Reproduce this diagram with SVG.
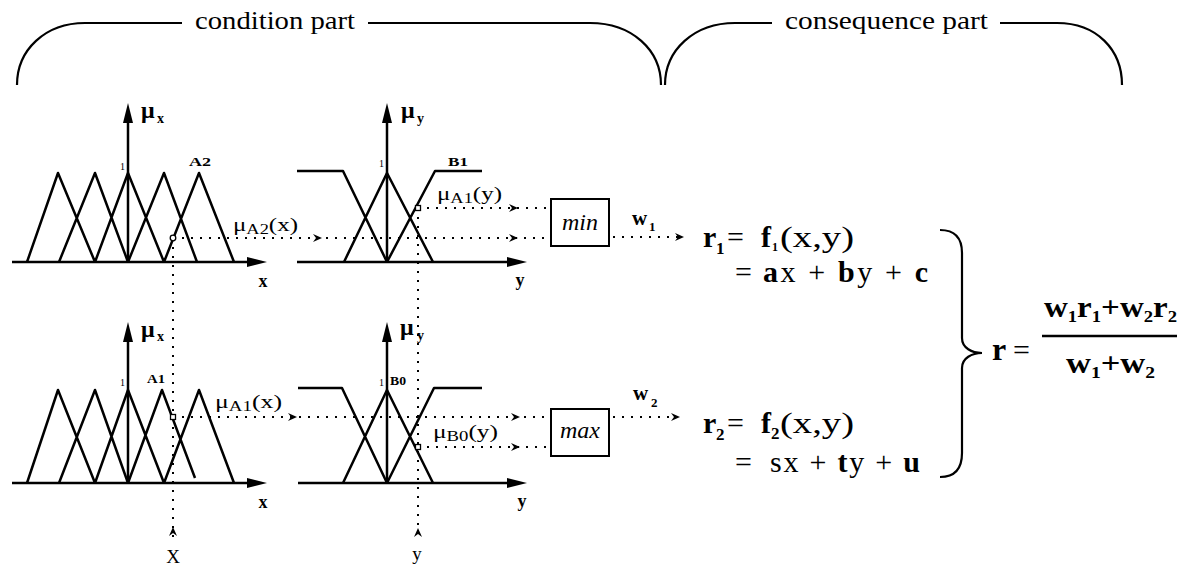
<svg xmlns="http://www.w3.org/2000/svg" width="1185" height="569" viewBox="0 0 1185 569">
<style>
.ln{stroke:#000;stroke-width:2.5;fill:none;stroke-linejoin:round}
.br{stroke:#000;stroke-width:2.2;fill:none}
.dt{stroke:#000;stroke-width:2;fill:none;stroke-dasharray:2 7}
.bx{stroke:#000;stroke-width:2;fill:#fff}
.mk{stroke:#000;stroke-width:1.3;fill:#fff}
text{font-family:"Liberation Serif","Times New Roman",serif;fill:#000}
.b{font-weight:bold}
.i{font-style:italic}
.mu{font-size:24px;font-weight:bold}
.ml{font-size:19px}
</style>
<defs>
<path id="ah" d="M-9,-4 L0,0 L-9,4 L-6,0 z" fill="#000"/>
<path id="ax" d="M-20,-5 L0,0 L-20,5 z" fill="#000"/>
</defs>
<rect width="1185" height="569" fill="#fff"/>

<g id="braces">
<path class="br" d="M17,85 C17,50 45,23 85,23 L182,23"/>
<path class="br" d="M368,23 L590,23 C632,23 661,50 661,85"/>
<path class="br" d="M665,85 C665,50 694,23 735,23 L772,23"/>
<path class="br" d="M1000,23 L1057,23 C1097,23 1122,50 1122,85"/>
<text x="195" y="29" font-size="25" textLength="160" lengthAdjust="spacingAndGlyphs">condition part</text>
<text x="785" y="29" font-size="25" textLength="203" lengthAdjust="spacingAndGlyphs">consequence part</text>
</g>

<g id="plotA2">
<path class="ln" d="M12,262 L252,262"/>
<use href="#ax" transform="translate(267,262)"/>
<path class="ln" d="M128,262 L128,118"/>
<use href="#ax" transform="translate(128,103) rotate(-90)"/>
<path class="ln" d="M27,262 L58,173 L95,262 M59,262 L95,173 L128,262 M95,262 L128,173 L164,262 M128,262 L164,173 L197,262 M164,262 L199,173 L234,262"/>
<text x="141" y="118" class="mu">μ</text>
<text x="157" y="123" font-size="14" class="b">x</text>
<text x="120" y="170" font-size="10">1</text>
<text x="189" y="166" font-size="13" class="b" textLength="22" lengthAdjust="spacingAndGlyphs">A2</text>
<text x="263" y="287" font-size="18" class="b" text-anchor="middle">x</text>
</g>

<g id="plotB1">
<path class="ln" d="M297,262 L512,262"/>
<use href="#ax" transform="translate(527,262)"/>
<path class="ln" d="M387,262 L387,118"/>
<use href="#ax" transform="translate(387,103) rotate(-90)"/>
<path class="ln" d="M297,171 L343,171 L387,262 M344,262 L387,173 L433,262 M387,262 L435,171 L482,171"/>
<text x="401" y="118" class="mu">μ</text>
<text x="417" y="123" font-size="14" class="b">y</text>
<text x="379" y="167" font-size="10">1</text>
<text x="448" y="166" font-size="13" class="b" textLength="20" lengthAdjust="spacingAndGlyphs">B1</text>
<text x="520" y="286" font-size="18" class="b" text-anchor="middle">y</text>
</g>

<g id="plotA1">
<path class="ln" d="M12,483 L252,483"/>
<use href="#ax" transform="translate(267,483)"/>
<path class="ln" d="M128,483 L128,337"/>
<use href="#ax" transform="translate(128,322) rotate(-90)"/>
<path class="ln" d="M27,483 L58,390 L95,483 M59,483 L95,390 L128,483 M95,483 L128,390 L164,483 M128,483 L162,390 L195,478 M164,483 L199,390 L234,483"/>
<text x="141" y="337" class="mu">μ</text>
<text x="157" y="341" font-size="14" class="b">x</text>
<text x="120" y="386" font-size="10">1</text>
<text x="147" y="383" font-size="13" class="b" textLength="18" lengthAdjust="spacingAndGlyphs">A1</text>
<text x="263" y="508" font-size="18" class="b" text-anchor="middle">x</text>
</g>

<g id="plotB0">
<path class="ln" d="M298,483 L512,483"/>
<use href="#ax" transform="translate(527,483)"/>
<path class="ln" d="M387,483 L387,337"/>
<use href="#ax" transform="translate(387,322) rotate(-90)"/>
<path class="ln" d="M298,388 L342,388 L387,483 M343,483 L387,390 L433,483 M387,483 L434,388 L482,388"/>
<text x="400" y="335" class="mu">μ</text>
<text x="417" y="340" font-size="14" class="b">y</text>
<text x="379" y="386" font-size="10">1</text>
<text x="390" y="385" font-size="13" class="b" textLength="16" lengthAdjust="spacingAndGlyphs">B0</text>
<text x="522" y="507" font-size="18" class="b" text-anchor="middle">y</text>
</g>

<g id="connectors">
<path class="dt" d="M173,238 L550,238"/>
<use href="#ah" x="322" y="238"/>
<use href="#ah" x="518" y="238"/>
<path class="dt" d="M418,208 L550,208"/>
<use href="#ah" x="518" y="208"/>
<path class="dt" d="M173,417 L550,417"/>
<use href="#ah" x="297" y="417"/>
<use href="#ah" x="520" y="417"/>
<path class="dt" d="M418,447 L550,447"/>
<use href="#ah" x="520" y="447"/>
<path class="dt" d="M173,238 L173,538"/>
<use href="#ah" transform="translate(173,527) rotate(-90)"/>
<path class="dt" d="M418,208 L418,538"/>
<use href="#ah" transform="translate(418,528) rotate(-90)"/>
<path class="dt" d="M613,237 L680,237"/>
<use href="#ah" x="684" y="237"/>
<path class="dt" d="M613,417 L676,417"/>
<use href="#ah" x="680" y="417"/>
<circle class="mk" cx="173" cy="238" r="2.8"/>
<rect class="mk" x="415.5" y="205.5" width="5" height="5"/>
<rect class="mk" x="170.5" y="414.5" width="5" height="5"/>
<rect class="mk" x="415.5" y="444.5" width="5" height="5"/>
<text x="233" y="231" class="ml" textLength="65" lengthAdjust="spacingAndGlyphs">μ<tspan font-size="14" dy="3">A2</tspan><tspan dy="-3">(x)</tspan></text>
<text x="437" y="200" class="ml" textLength="65" lengthAdjust="spacingAndGlyphs">μ<tspan font-size="14" dy="3">A1</tspan><tspan dy="-3">(y)</tspan></text>
<text x="215" y="408" class="ml" textLength="67" lengthAdjust="spacingAndGlyphs">μ<tspan font-size="14" dy="3">A1</tspan><tspan dy="-3">(x)</tspan></text>
<text x="433" y="438" class="ml" textLength="65" lengthAdjust="spacingAndGlyphs">μ<tspan font-size="14" dy="3">B0</tspan><tspan dy="-3">(y)</tspan></text>
<text x="173" y="563" font-size="19" text-anchor="middle">X</text>
<text x="417" y="560" font-size="19" text-anchor="middle">y</text>
</g>

<g id="min">
<rect class="bx" x="551" y="199" width="58" height="47"/>
<text x="580" y="230" font-size="24" class="i" text-anchor="middle">min</text>
</g>
<g id="max">
<rect class="bx" x="551" y="409" width="58" height="47"/>
<text x="580" y="438" font-size="24" class="i" text-anchor="middle">max</text>
</g>

<g id="weights">
<text x="632" y="225" font-size="21" class="b">w</text>
<text x="649" y="231" font-size="13" class="b">1</text>
<text x="633" y="400" font-size="21" class="b">w</text>
<text x="651" y="407" font-size="13" class="b">2</text>
</g>

<g id="rule1">
<text x="703" y="247" font-size="30" class="b">r</text>
<text x="716" y="254" font-size="17" class="b">1</text>
<text x="727" y="247" font-size="30">=</text>
<text x="761" y="247" font-size="30" class="b">f</text>
<text x="772" y="251" font-size="12" class="b">1</text>
<text x="780" y="247" font-size="30" textLength="74" lengthAdjust="spacingAndGlyphs">(x,y)</text>
<text x="735" y="282" font-size="30">=</text>
<text x="763" y="282" font-size="30" textLength="165" lengthAdjust="spacing"><tspan class="b">a</tspan>x + <tspan class="b">b</tspan>y + <tspan class="b">c</tspan></text>
</g>

<g id="rule2">
<text x="703" y="433" font-size="30" class="b">r</text>
<text x="716" y="440" font-size="17" class="b">2</text>
<text x="727" y="433" font-size="30">=</text>
<text x="761" y="433" font-size="30" class="b">f</text>
<text x="771" y="439" font-size="17" class="b">2</text>
<text x="780" y="433" font-size="30" textLength="74" lengthAdjust="spacingAndGlyphs">(x,y)</text>
<text x="735" y="472" font-size="30">=</text>
<text x="770" y="472" font-size="30" textLength="150" lengthAdjust="spacing">sx + <tspan class="b">t</tspan>y + <tspan class="b">u</tspan></text>
</g>

<g id="result">
<path class="br" d="M940,230 C955,230 962,238 962,253 L962,338 C962,348 972,353 982,353 C972,353 962,358 962,368 L962,453 C962,468 955,477 940,477"/>
<text x="992" y="360" font-size="32" class="b">r</text>
<text x="1013" y="360" font-size="30">=</text>
<path class="ln" d="M1042,336 L1177,336"/>
<text x="1044" y="317" font-size="30" class="b" textLength="133" lengthAdjust="spacingAndGlyphs">w<tspan font-size="17" dy="5">1</tspan><tspan dy="-5">r</tspan><tspan font-size="17" dy="5">1</tspan><tspan dy="-5">+w</tspan><tspan font-size="17" dy="5">2</tspan><tspan dy="-5">r</tspan><tspan font-size="17" dy="5">2</tspan></text>
<text x="1066" y="373" font-size="30" class="b" textLength="89" lengthAdjust="spacingAndGlyphs">w<tspan font-size="17" dy="5">1</tspan><tspan dy="-5">+w</tspan><tspan font-size="17" dy="5">2</tspan></text>
</g>
</svg>
